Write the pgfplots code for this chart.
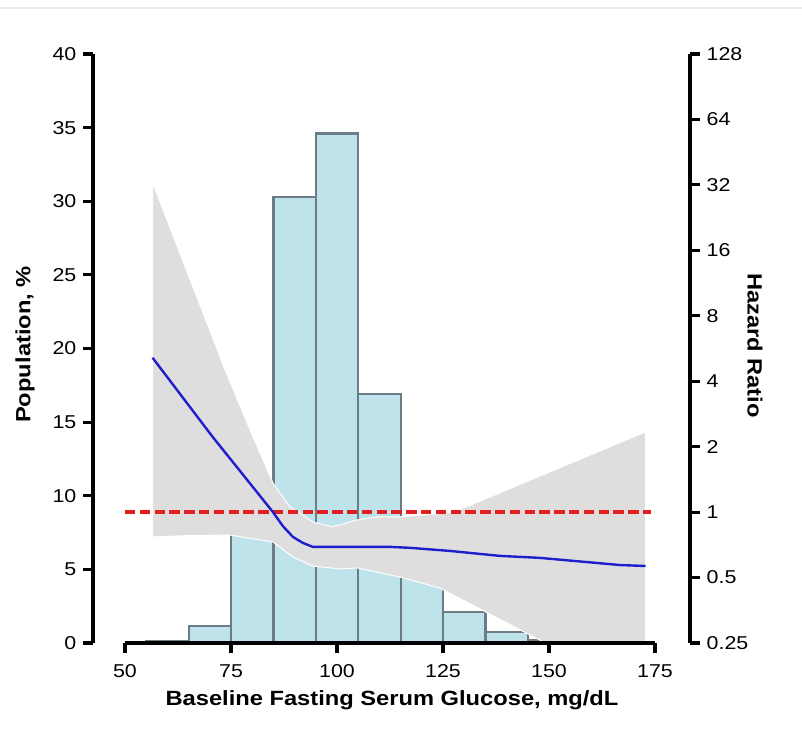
\documentclass[border=0pt]{standalone}
\usepackage{fontspec}
\setmainfont{Liberation Sans}[FakeStretch=1.15]
\usepackage{pgfplots}
\pgfplotsset{compat=1.18}
\definecolor{barfill}{RGB}{191,227,235}
\definecolor{baredge}{RGB}{108,124,132}
\definecolor{bandgray}{RGB}{222,222,222}
\definecolor{hrblue}{RGB}{30,30,205}
\definecolor{hrred}{RGB}{226,30,30}
\pgfplotsset{
  myaxis/.style={
    scale only axis,
    at={(0pt,0pt)}, anchor=south west,
    height=294.5pt,
    tick align=outside,
    major tick length=4.8pt,
    axis line style={line width=1.7pt, black},
    tick style={line width=1.6pt, black},
    tick label style={font=\fontsize{9.3}{10}\selectfont, black},
    /pgf/number format/assume math mode=true,
  }
}
\begin{document}
\begin{tikzpicture}
\useasboundingbox (-62.5pt,-48pt) rectangle (338.5pt,321.5pt);
\draw[black!8, line width=0.8pt] (-62.5pt,317.5pt) -- (338.5pt,317.5pt);

% histogram (Population, %)
\begin{axis}[myaxis, width=265pt, xmin=50, xmax=175, ymin=0, ymax=40, hide axis]
\addplot[ybar interval, fill=barfill, draw=baredge, line width=1.1pt]
  coordinates {(55,0.1) (65,1.15) (75,9.5) (85,30.3) (95,34.6) (105,16.9)
               (115,7.5) (125,2.1) (135,0.75) (145,0.2) (155,0.2)};
\end{axis}

% hazard ratio (log2 axis on the right)
\begin{axis}[myaxis, width=282.5pt, xmin=50, xmax=183.25,
  ymode=log, log basis y=2, ymin=0.25, ymax=128,
  hide x axis, axis y line*=right, yminorticks=false,
  ytick={0.25,0.5,1,2,4,8,16,32,64,128},
  yticklabels={0.25,0.5,1,2,4,8,16,32,64,128}]
\addplot[fill=bandgray, draw=white, line width=0.5pt] coordinates {
  (56.5,32.8) (73.6,4.51) (79.5,2.39) (84.9,1.36) (88.9,1.057) (91.5,0.98)
  (94.3,0.901) (99.0,0.855) (104.7,0.921) (109.4,0.951) (114.8,0.951)
  (125.9,0.992) (127.5,1.0) (172.8,2.34)
  (172.8,0.142) (147.8,0.258) (124.2,0.448) (114.8,0.503) (104.7,0.554)
  (100.7,0.548) (94.3,0.565) (89.6,0.622) (84.9,0.729) (74.7,0.785)
  (65,0.78) (56.5,0.769)} -- cycle;
\addplot[draw=hrred, line width=1.9pt, dash pattern=on 5.2pt off 2.2pt]
  coordinates {(50,1) (174,1)};
\addplot[draw=hrblue, line width=1.2pt] coordinates {
  (56.5,5.13) (70.5,2.24) (84.9,1.0) (87.2,0.864) (89.6,0.769) (92.0,0.721)
  (94.3,0.692) (101.4,0.692) (112.5,0.692) (117.2,0.685) (126.6,0.663)
  (138.4,0.629) (147.8,0.616) (166.7,0.571) (172.8,0.565)};
\end{axis}

% x axis on top
\begin{axis}[myaxis, width=265pt, xmin=50, xmax=175, ymin=0, ymax=40,
  axis x line*=bottom, hide y axis,
  xtick={50,75,100,125,150,175},
  xticklabel style={yshift=-2.5pt}]
\end{axis}

% left axis
\begin{axis}[myaxis, at={(-16pt,0pt)}, width=10pt, xmin=0, xmax=1, ymin=0, ymax=40,
  axis y line*=left, hide x axis,
  ytick={0,5,10,15,20,25,30,35,40}]
\end{axis}

\node[font=\bfseries\fontsize{10.3}{12}\selectfont, anchor=base] at (133.5pt,-31.3pt)
  {Baseline Fasting Serum Glucose, mg/dL};
\node[font=\bfseries\fontsize{10.3}{12}\selectfont, rotate=90] at (-50pt,149.25pt)
  {Population, \%};
\node[font=\bfseries\fontsize{10.3}{12}\selectfont, rotate=-90] at (315pt,148.75pt)
  {Hazard Ratio};
\end{tikzpicture}
\end{document}
